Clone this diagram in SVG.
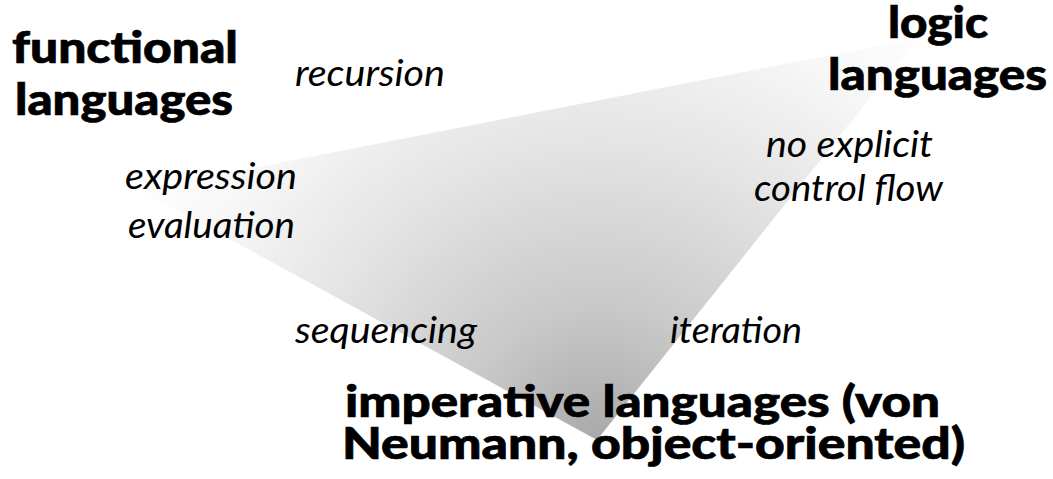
<svg xmlns="http://www.w3.org/2000/svg" width="1053" height="479" viewBox="0 0 1053 479">
<defs>
<radialGradient id="shade" gradientUnits="userSpaceOnUse" cx="597" cy="440" r="540">
<stop offset="0" stop-color="#a9a9a9"/>
<stop offset="0.25" stop-color="#c9c9c9"/>
<stop offset="0.55" stop-color="#e4e4e4"/>
<stop offset="0.8" stop-color="#f7f7f7"/>
<stop offset="1" stop-color="#ffffff"/>
</radialGradient>
<style>
.head{font-family:Lato,"Open Sans","Liberation Sans",sans-serif;font-weight:900;font-size:43px;fill:#000;stroke:#000;stroke-width:0.7px}
.lab{font-family:Lato,"Open Sans","Liberation Sans",sans-serif;font-style:italic;font-size:36px;fill:#000}
</style>
</defs>
<rect width="1053" height="479" fill="#fff"/>
<g id="connectors">
<polygon points="140,190 918,38 597,440" fill="url(#shade)"/>
</g>
<g id="functional">
<text class="head" x="12" y="63" textLength="226" lengthAdjust="spacingAndGlyphs">functional</text>
<text class="head" x="15" y="115" textLength="218" lengthAdjust="spacingAndGlyphs">languages</text>
</g>
<g id="logic">
<text class="head" x="888" y="38" textLength="100" lengthAdjust="spacingAndGlyphs">logic</text>
<text class="head" x="828" y="90" textLength="219" lengthAdjust="spacingAndGlyphs">languages</text>
</g>
<g id="imperative">
<text class="head" x="345" y="417" textLength="595" lengthAdjust="spacingAndGlyphs">imperative languages (von</text>
<text class="head" x="342" y="459" textLength="623" lengthAdjust="spacingAndGlyphs">Neumann, object-oriented)</text>
</g>
<g id="labels">
<text class="lab" x="295" y="86" textLength="150" lengthAdjust="spacingAndGlyphs">recursion</text>
<text class="lab" x="125" y="189" textLength="172" lengthAdjust="spacingAndGlyphs">expression</text>
<text class="lab" x="128" y="238" textLength="167" lengthAdjust="spacingAndGlyphs">evaluation</text>
<text class="lab" x="766" y="157" textLength="167" lengthAdjust="spacingAndGlyphs">no explicit</text>
<text class="lab" x="754" y="201" textLength="189" lengthAdjust="spacingAndGlyphs">control flow</text>
<text class="lab" x="295" y="343" textLength="182" lengthAdjust="spacingAndGlyphs">sequencing</text>
<text class="lab" x="670" y="343" textLength="132" lengthAdjust="spacingAndGlyphs">iteration</text>
</g>
</svg>
